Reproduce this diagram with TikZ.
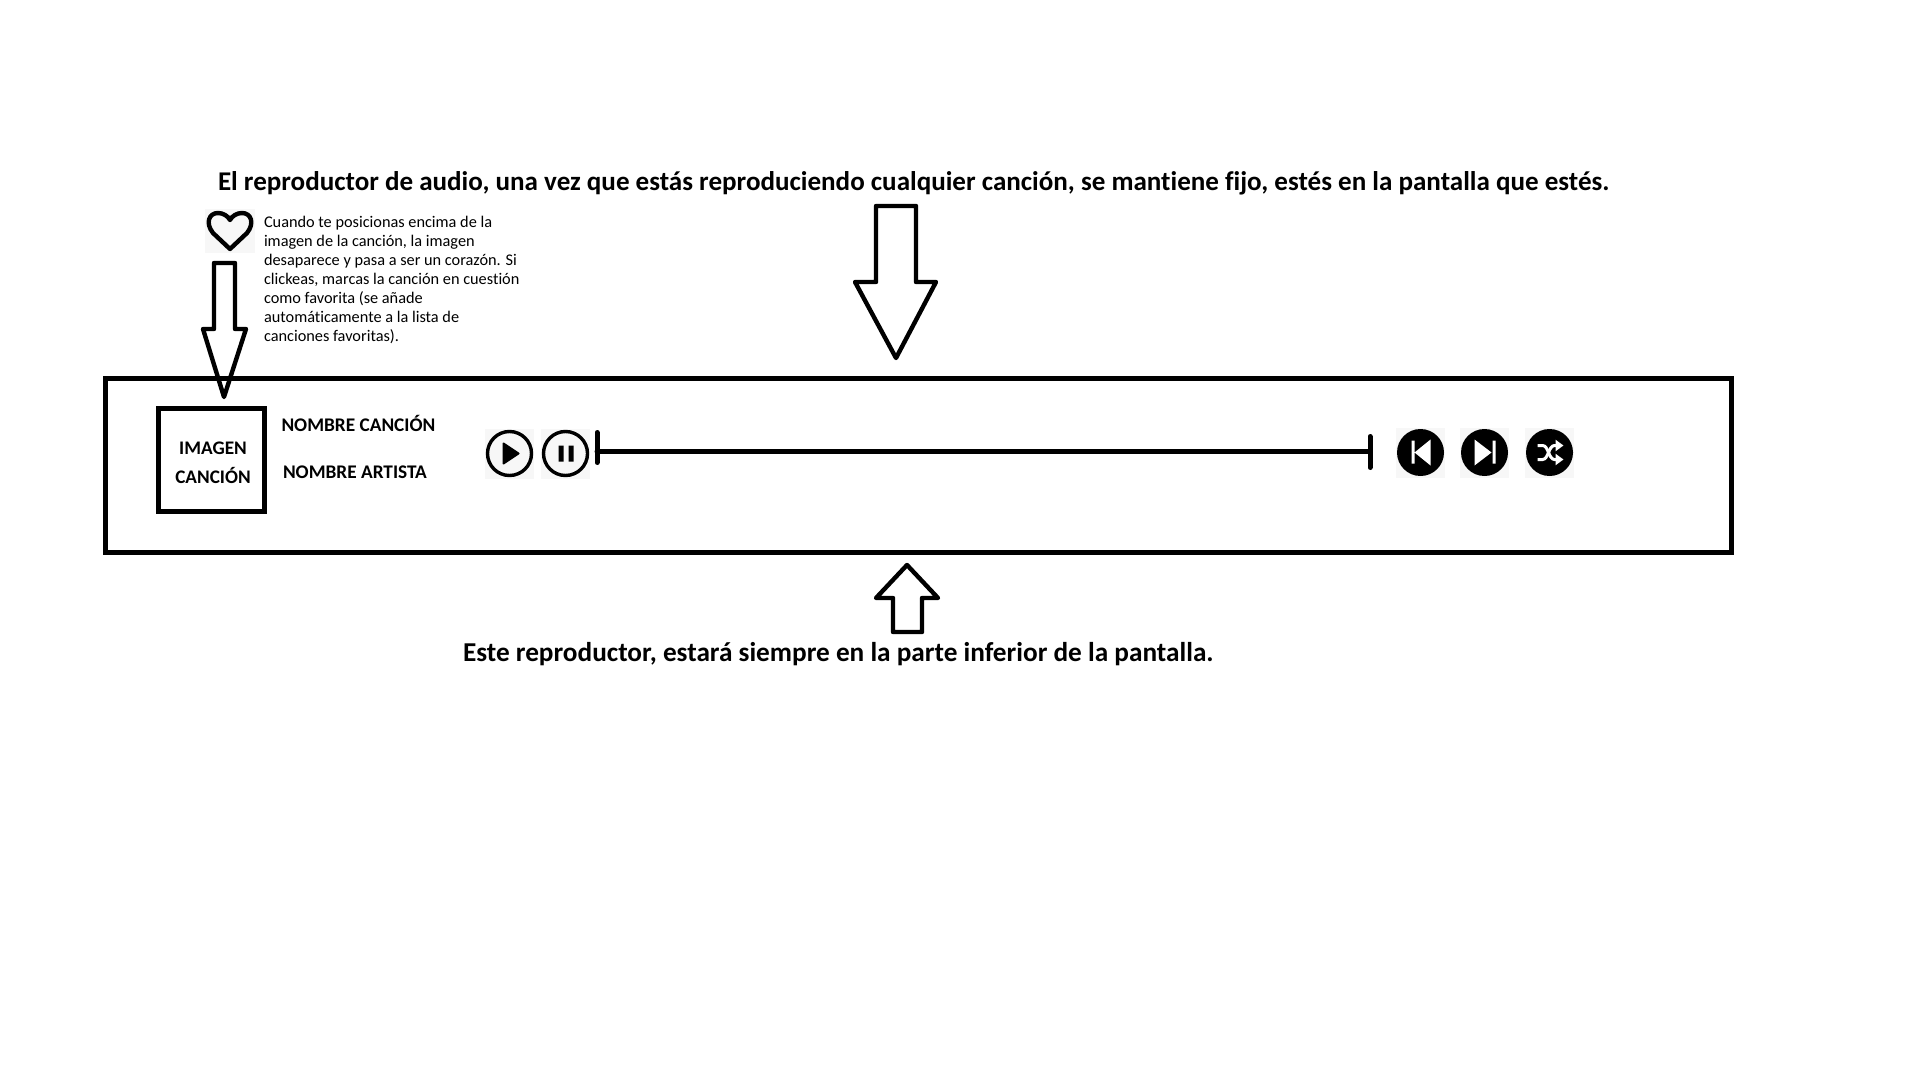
\documentclass[tikz,border=0pt]{standalone}
\usepackage{fontspec}
\setmainfont{Carlito}[Ligatures=NoCommon]
\usepackage{xcolor}
\usetikzlibrary{arrows.meta,positioning}
\definecolor{iconback}{RGB}{247,247,247}
\begin{document}
\begin{tikzpicture}[x=0.5pt, y=-0.5pt, >={Triangle[length=4pt,width=5.5pt]}, every node/.style={inner sep=0pt,outer sep=0pt},
 bigtext/.style={font=\fontsize{13.53}{16}\selectfont\bfseries, anchor=west},
 lowertext/.style={font=\fontsize{13.63}{16}\selectfont\bfseries, anchor=west},
 labeltext/.style={font=\fontsize{9.65}{12}\selectfont\bfseries, anchor=west},
 covertext/.style={font=\fontsize{9.6}{14.5}\selectfont\bfseries, align=center},
 notetext/.style={font=\fontsize{8.15}{9.5}\selectfont, align=left, anchor=north west},
 frame/.style={draw=black, line width=2.4pt},
 blockarrow/.style={draw=black, line width=2.2pt, line join=round},
 iconbox/.style={fill=iconback, minimum width=24.5pt, minimum height=25pt},
 ringicon/.style={circle, draw=black, line width=1.7pt, minimum size=22pt},
 discicon/.style={circle, fill=black, minimum size=23.5pt},
 bar/.style={line width=2.5pt, line cap=round},
 whiteline/.style={draw=white, line width=1.5pt}]
\useasboundingbox (0,0) rectangle (1920,1080);
\node[bigtext] (title) at (218,183.5) {El reproductor de audio, una vez que estás reproduciendo cualquier canción, se mantiene fijo, estés en la pantalla que estés.};
\node[lowertext] (bottomtext) at (463,654.5) {Este reproductor, estará siempre en la parte inferior de la pantalla.};
\node[notetext] (note) at (264,216) {Cuando te posicionas encima de la\\imagen de la canción, la imagen\\desaparece y pasa a ser un corazón. Si\\clickeas, marcas la canción en cuestión\\como favorita (se añade\\automáticamente a la lista de\\canciones favoritas).};
% player
\node[frame, minimum width=813pt, minimum height=87pt, anchor=north west] (player) at (105.5,378.5) {};
\node[frame, minimum width=53pt, minimum height=51.5pt, anchor=north west] (cover) at (158.5,408.5) {};
\node[covertext] (covername) at (213,463) {IMAGEN\\CANCIÓN};
\node[labeltext] (song) at (281.5,423) {NOMBRE CANCIÓN};
\node[labeltext] (artist) at (283,472) {NOMBRE ARTISTA};
% heart
\node[iconbox, minimum height=22pt, minimum width=25pt] (heartback) at (230,231) {};
\draw[blockarrow] (230,249) -- (213,233) .. controls (205,223) and (209,213) .. (218,213) .. controls (223,213) and (228,216) .. (230,220) .. controls (232,216) and (237,213) .. (242,213) .. controls (251,213) and (255,223) .. (247,233) -- cycle;
% block arrows
\draw[blockarrow] (214,263) -- (235,263) -- (235,329) -- (246,329) -- (224,397) -- (203,329) -- (214,329) -- cycle;
\draw[blockarrow] (876,206) -- (916,206) -- (916,282) -- (936,282) -- (896,358) -- (855,282) -- (876,282) -- cycle;
\draw[blockarrow] (907,565) -- (938,598) -- (922,598) -- (922,632) -- (893,632) -- (893,598) -- (876,598) -- cycle;
% controls
\node[iconbox] (play) at (509.5,453.5) {};
\node[iconbox, right=3.5pt of play] (pause) {};
\node[iconbox] (prev) at (1420.5,452.5) {};
\node[iconbox, right=7.5pt of prev] (next) {};
\node[iconbox, right=8pt of next] (shuffle) {};
\node[ringicon] (playring) at (play) {};
\node[ringicon] (pausering) at (pause) {};
\node[discicon] (prevdisc) at (prev) {};
\node[discicon] (nextdisc) at (next) {};
\node[discicon] (shuffledisc) at (shuffle) {};
\fill[black, draw=black, line width=1pt, line join=round, shift={(play.center)}] (-6,-10) -- (9,0) -- (-6,10) -- cycle;
\fill[black, shift={(pause.center)}] (-7,-8) rectangle (-2,8) (3,-8) rectangle (8,8);
\fill[white, shift={(prev.center)}] (-9,-12) rectangle (-6,11) (-6,0) -- (10,-13) -- (10,13) -- cycle;
\fill[white, shift={(next.center)}] (8,-12) rectangle (11,11) (7,0) -- (-10,-13) -- (-10,13) -- cycle;
\draw[whiteline, ->, shift={(shuffle.center)}] (-12,-7) -- (-7,-7) .. controls (-1,-7) and (-1,7) .. (5,7) -- (14,7);
\draw[whiteline, ->, shift={(shuffle.center)}] (-12,7) -- (-7,7) .. controls (-1,7) and (-1,-7) .. (5,-7) -- (14,-7);
% slider
\coordinate (barstart) at (597,451.5);
\coordinate (barend) at (1370,451.5);
\draw[bar] (barstart) -- (barend);
\draw[bar] ([yshift=9.5pt]barstart) -- ([yshift=-5.5pt]barstart);
\draw[bar] ([yshift=7.5pt]barend) -- ([yshift=-8pt]barend);
\end{tikzpicture}
\end{document}
